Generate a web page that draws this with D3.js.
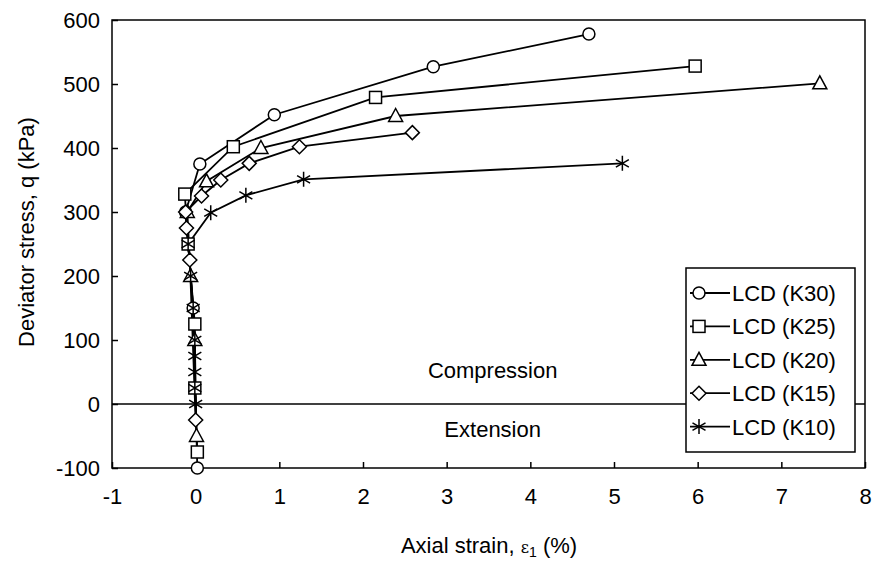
<!DOCTYPE html>
<html>
<head>
<meta charset="utf-8">
<script src="https://cdn.jsdelivr.net/npm/d3@7"></script>
<style>
  body { margin: 0; background: #fff; }
  text { font-family: "Liberation Sans", Arial, sans-serif; fill: #000; }
</style>
</head>
<body>
<div id="main"></div>
<script>
// data: axial strain (%) and deviator stress (kPa)
const seriesNames = ['LCD (K30)', 'LCD (K25)', 'LCD (K20)', 'LCD (K15)', 'LCD (K10)'];
const k30Strain = [0.02, -0.03, -0.12, 0.05, 0.94, 2.84, 4.70];
const k30Stress = [-100, 150, 300, 375, 452, 527, 578];
const k25Strain = [0.02, -0.01, -0.01, -0.09, -0.13, 0.45, 2.15, 5.97];
const k25Stress = [-75, 25, 125, 250, 328, 402, 479, 528];
const k20Strain = [0.01, -0.01, -0.06, -0.10, 0.13, 0.78, 2.39, 7.46];
const k20Stress = [-50, 100, 200, 300, 348, 400, 450, 501];
const k15Strain = [0.00, -0.07, -0.11, -0.12, 0.07, 0.30, 0.64, 1.24, 2.59];
const k15Stress = [-25, 225, 275, 300, 325, 350, 376, 402, 424];
const k10Strain = [0.00, -0.01, -0.01, -0.01, -0.01, -0.03, -0.06, -0.09, 0.18, 0.60, 1.29, 5.10];
const k10Stress = [0, 25, 50, 75, 100, 150, 200, 250, 299, 326, 351, 376];
const xTicks = [-1, 0, 1, 2, 3, 4, 5, 6, 7, 8];
const yTicks = [-100, 0, 100, 200, 300, 400, 500, 600];

const W = 876, H = 565;
const margin = {left: 112, top: 20, right: 11, bottom: 97};
const iw = W - margin.left - margin.right, ih = H - margin.top - margin.bottom;
const FS = 22;

const svg = d3.select('#main').append('svg').attr('width', W).attr('height', H);
const g = svg.append('g').attr('transform', `translate(${margin.left},${margin.top})`);

const x = d3.scaleLinear().domain([-1, 8]).range([0, iw]);
const y = d3.scaleLinear().domain([-100, 600]).range([ih, 0]);

// frame
g.append('rect').attr('width', iw).attr('height', ih)
  .attr('fill', 'none').attr('stroke', '#000').attr('stroke-width', 1.5);

// axes, ticks point inward, plain hyphen minus like the source
const xAxis = g.append('g').attr('transform', `translate(0,${ih})`)
  .call(d3.axisBottom(x).tickValues(xTicks).tickSizeInner(-6).tickSizeOuter(0).tickPadding(20).tickFormat(d => String(d)));
const yAxis = g.append('g')
  .call(d3.axisLeft(y).tickValues(yTicks).tickSizeInner(-6).tickSizeOuter(0).tickPadding(12).tickFormat(d => String(d)));
[xAxis, yAxis].forEach(a => {
  a.select('.domain').remove();
  a.selectAll('line').attr('stroke', '#000').attr('stroke-width', 1.5);
  a.selectAll('text').attr('font-size', FS).attr('font-family', '"Liberation Sans", Arial, sans-serif');
});

// zero line
g.append('line').attr('x1', 0).attr('x2', iw).attr('y1', y(0)).attr('y2', y(0))
  .attr('stroke', '#000').attr('stroke-width', 1.5);

g.append('text').attr('x', x(3.55)).attr('y', y(40)).attr('text-anchor', 'middle')
  .attr('font-size', FS).text('Compression');
g.append('text').attr('x', x(3.55)).attr('y', y(-52)).attr('text-anchor', 'middle')
  .attr('font-size', FS).text('Extension');

// axis titles
const xt = svg.append('text').attr('x', 489).attr('y', 553).attr('text-anchor', 'middle').attr('font-size', FS);
xt.append('tspan').text('Axial strain, ');
xt.append('tspan').attr('font-family', '"DejaVu Serif", serif').attr('font-size', 16).text('ε');
xt.append('tspan').attr('font-size', 14).attr('dy', 4).text('1');
xt.append('tspan').attr('dy', -4).text(' (%)');

svg.append('text').attr('transform', `translate(34,${margin.top + ih / 2 - 12}) rotate(-90)`)
  .attr('text-anchor', 'middle').attr('font-size', FS).text('Deviator stress, q (kPa)');

// markers
const markerFns = [
  sel => sel.append('circle').attr('r', 6),
  sel => sel.append('rect').attr('x', -6).attr('y', -6).attr('width', 12).attr('height', 12),
  sel => sel.append('path').attr('d', 'M0,-7.5L7,5.5L-7,5.5Z'),
  sel => sel.append('path').attr('d', 'M0,-7L7,0L0,7L-7,0Z'),
  sel => sel.append('path').attr('d', 'M0,-7.5V7.5M-6.5,-3.8L6.5,3.8M-6.5,3.8L6.5,-3.8')
];

const series = [
  [k30Strain, k30Stress], [k25Strain, k25Stress], [k20Strain, k20Stress],
  [k15Strain, k15Stress], [k10Strain, k10Stress]
].map(([xs, ys], i) => ({name: seriesNames[i], pts: xs.map((v, j) => [v, ys[j]])}));

const line = d3.line().x(d => x(d[0])).y(d => y(d[1]));

series.forEach(s => {
  g.append('path').attr('d', line(s.pts)).attr('fill', 'none')
    .attr('stroke', '#000').attr('stroke-width', 1.8);
});
series.forEach((s, i) => {
  g.selectAll(null).data(s.pts).enter().append('g')
    .attr('transform', d => `translate(${x(d[0])},${y(d[1])})`)
    .each(function () {
      markerFns[i](d3.select(this)).attr('fill', '#fff').attr('stroke', '#000').attr('stroke-width', 1.5);
    });
});

// legend
const lg = svg.append('g').attr('transform', 'translate(686,268)');
lg.append('rect').attr('width', 169).attr('height', 184)
  .attr('fill', '#fff').attr('stroke', '#000').attr('stroke-width', 1.5);
seriesNames.forEach((n, i) => {
  const row = lg.append('g').attr('transform', `translate(0,${25 + i * 33.4})`);
  row.append('line').attr('x1', 4).attr('x2', 44).attr('stroke', '#000').attr('stroke-width', 1.8);
  markerFns[i](row.append('g').attr('transform', 'translate(13,0)'))
    .attr('fill', '#fff').attr('stroke', '#000').attr('stroke-width', 1.5);
  row.append('text').attr('x', 46).attr('y', 8).attr('font-size', FS).text(n);
});
</script>
</body>
</html>
